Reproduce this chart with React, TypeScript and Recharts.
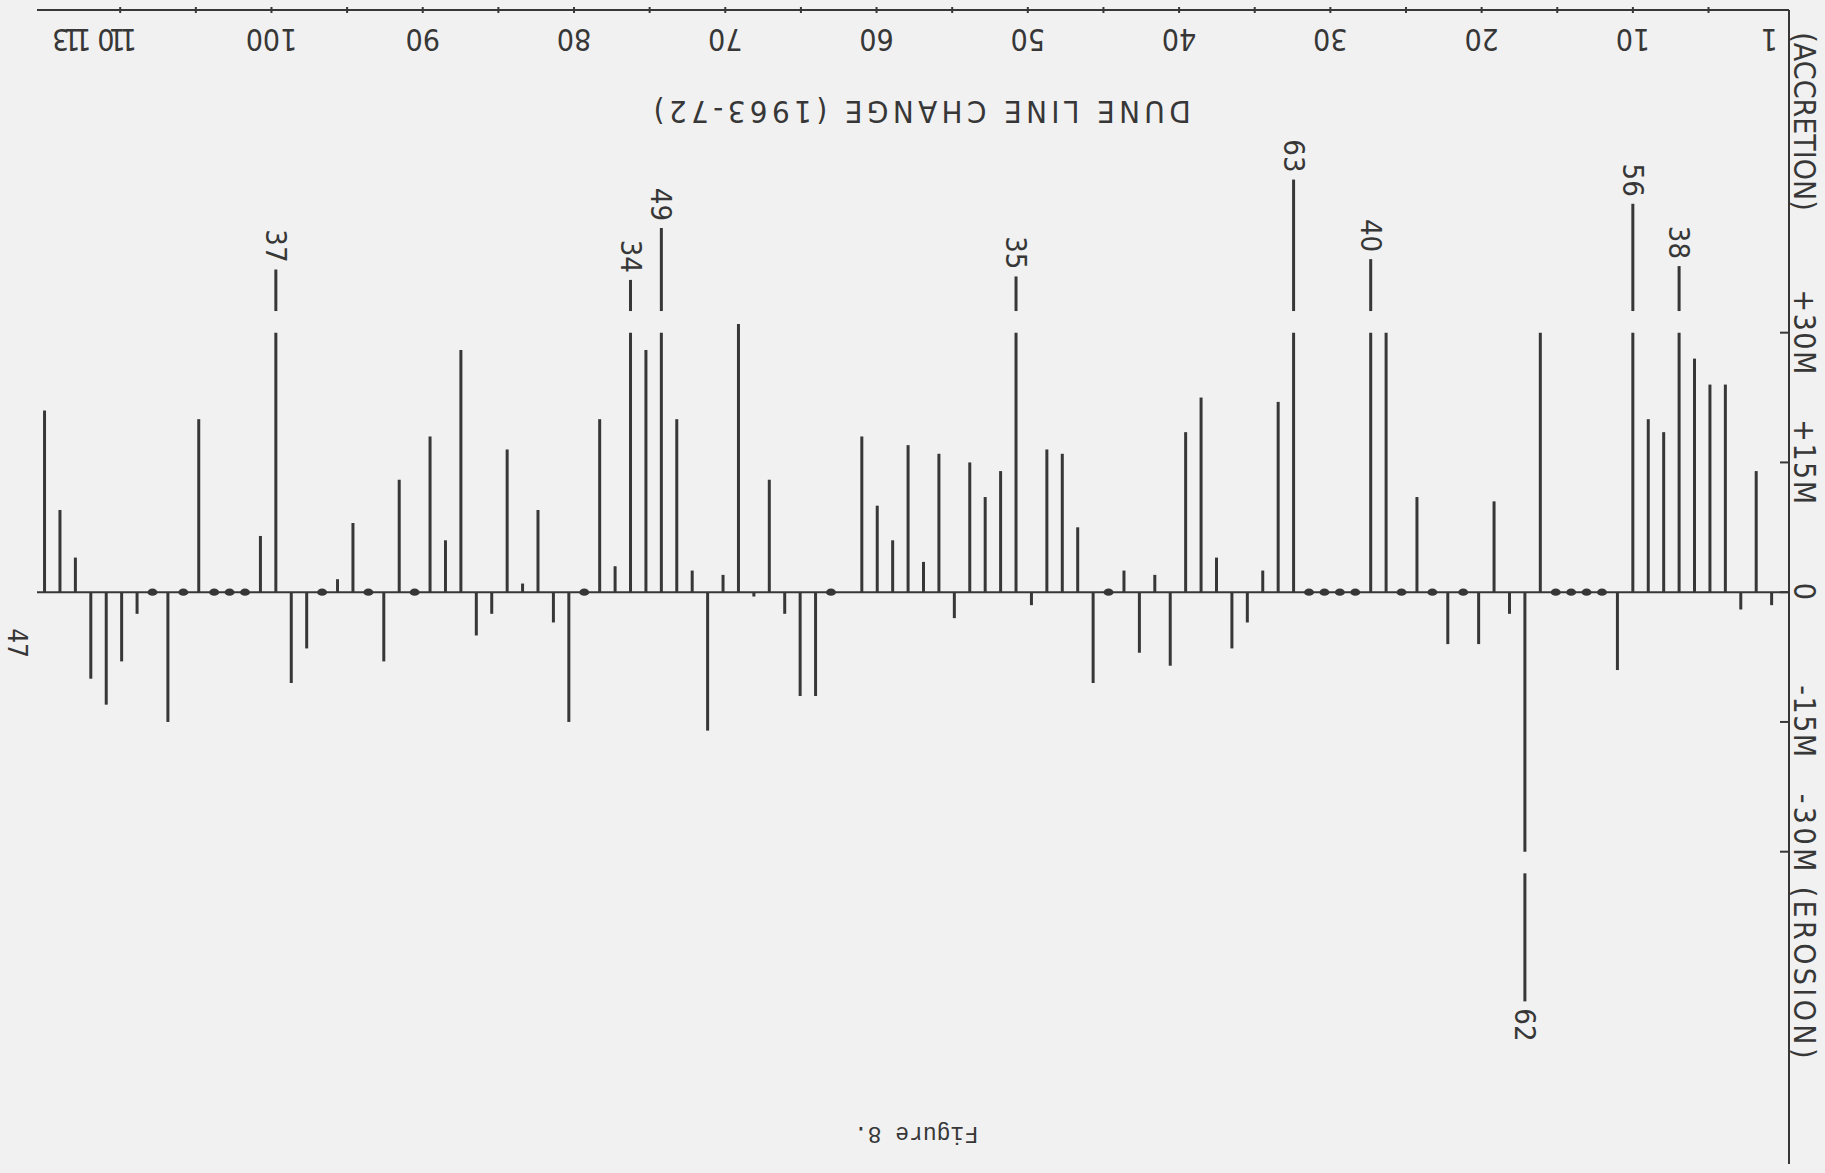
import { Bar, BarChart, ReferenceLine, XAxis, YAxis } from 'recharts';

const INK = '#373737';
const PAPER = '#f1f1f1';
const LETTERING = "'DejaVu Sans Condensed', 'Liberation Sans Narrow', 'DejaVu Sans', sans-serif";

// survey stations along the dune line, numbered 1..113
const stations = Array.from({ length: 113 }, (_, i) => i + 1);

// net dune line change per station, metres (+ accretion, - erosion); null = not surveyed
const duneChange: (number | null)[] = [
  -1.5, 14, -2, 24, 24, 27, 38, 18.5, 20, 56,
  -9, 0, 0, 0, 0, 30, -62, -2.5, 10.5, -6,
  0, -6, 0, 11, 0, 30, 40, 0, 0, 0,
  0, 63, 22, 2.5, -3.5, -6.5, 4, 22.5, 18.5, -8.5,
  2, -7, 2.5, 0, -10.5, 7.5, 16, 16.5, -1.5, 35,
  14, 11, 15, -3, 16, 3.5, 17, 6, 10, 18,
  null, 0, -12, -12, -2.5, 13, -0.5, 31, 2, -16,
  2.5, 20, 49, 28, 34, 3, 20, 0, -15, -3.5,
  9.5, 1, 16.5, -2.5, -5, 28, 6, 18, 0, 13,
  -8, 0, 8, 1.5, 0, -6.5, -10.5, 37, 6.5, 0,
  0, 0, 20, 0, -15, 0, -2.5, -8, -13, -10,
  4, 9.5, 21,
];

// the lettered station scale: ticks every 5, numbers every 10
const stationAxisTicks = [1, 5, 10, 15, 20, 25, 30, 35, 40, 45, 50, 55, 60, 65, 70, 75, 80, 85, 90, 95, 100, 105, 110, 113];
const stationTicks = [1, 10, 20, 30, 40, 50, 60, 70, 80, 90, 100, 110, 113];
const metreTicks = [-30, -15, 0, 15, 30];
const metreTickLabels = ['-30M (EROSION)', '-15M', '0', '+15M', '+30M'];

// changes beyond this are drawn broken, with the figure written past the gap
const BREAK_AT = 30;

const data = stations.map((station, i) => ({ station, change: duneChange[i] }));

function Stem(props: any) {
  const { x, y, width, height, payload } = props;
  const v: number | null = payload?.change ?? null;
  if (v == null || x == null) return <g />;
  const cx = x + width / 2;
  const zero = y + height;
  if (v === 0) return <ellipse cx={cx} cy={zero} rx={5} ry={3.6} fill={INK} />;

  const unit = Math.abs(height / v);
  const dir = v > 0 ? -1 : 1;
  const at = (m: number) => zero + dir * m * unit;
  const mag = Math.abs(v);

  if (mag <= BREAK_AT + 2) {
    return <line x1={cx} x2={cx} y1={zero} y2={y} stroke={INK} strokeWidth={3} />;
  }

  const restStart = BREAK_AT + 2.5;
  const restEnd = restStart + 2 + (mag - BREAK_AT) * 0.4;
  const ly = at(restEnd) + dir * 7;
  return (
    <g>
      <line x1={cx} x2={cx} y1={zero} y2={at(BREAK_AT)} stroke={INK} strokeWidth={3} />
      <line x1={cx} x2={cx} y1={at(restStart)} y2={at(restEnd)} stroke={INK} strokeWidth={3} />
      <text
        x={cx}
        y={ly}
        transform={`rotate(90 ${cx} ${ly})`}
        textAnchor={v > 0 ? 'end' : 'start'}
        dominantBaseline="central"
        fontFamily={LETTERING}
        fontSize={29}
        fill={INK}
      >
        {mag}
      </text>
    </g>
  );
}

function StationTick({ x, y, payload }: any) {
  const s = payload.value as number;
  const ty = y + 19;
  return (
    <g>
      {s % 5 === 0 && <line x1={x} x2={x} y1={y - 3} y2={y + 3} stroke={INK} strokeWidth={2} />}
      {stationTicks.includes(s) && (
        <text
          x={x}
          y={ty}
          transform={`rotate(180 ${x} ${ty})`}
          textAnchor="middle"
          fontFamily={LETTERING}
          fontSize={30}
          letterSpacing={s > 105 ? -6 : 0}
          fill={INK}
        >
          {s}
        </text>
      )}
    </g>
  );
}

function MetreTick({ x, y, payload }: any) {
  const v = payload.value as number;
  const label = metreTickLabels[metreTicks.indexOf(v)];
  const tx = x + 5;
  const ty = v === -30 ? y - 58 : y;
  const top = y - 122;
  return (
    <g>
      <line x1={x - 9} x2={x} y1={y} y2={y} stroke={INK} strokeWidth={2} />
      <text
        x={tx}
        y={ty}
        transform={`rotate(90 ${tx} ${ty})`}
        textAnchor={v === -30 ? 'start' : 'middle'}
        fontFamily={LETTERING}
        fontSize={30}
        letterSpacing={v === -30 ? 3.4 : 1.5}
        fill={INK}
      >
        {label}
      </text>
      {v === 30 && (
        <text
          x={tx}
          y={top}
          transform={`rotate(90 ${tx} ${top})`}
          textAnchor="end"
          fontFamily={LETTERING}
          fontSize={30}
          fill={INK}
        >
          (ACCRETION)
        </text>
      )}
    </g>
  );
}

export default function App() {
  return (
    <div
      style={{
        position: 'absolute',
        left: 0,
        top: 0,
        width: 1825,
        height: 1173,
        background: PAPER,
        overflow: 'hidden',
      }}
    >
      <BarChart width={1825} height={1173} data={data} margin={{ top: 0, right: 0, bottom: 9, left: 37 }}>
        {/* one band per station for the stems */}
        <XAxis xAxisId="bars" dataKey="station" reversed hide padding={{ left: 0, right: 9.5 }} />
        {/* hand-lettered station scale along the top edge, spaced a little tighter than the stems */}
        <XAxis
          xAxisId="scale"
          dataKey="station"
          type="number"
          orientation="top"
          reversed
          domain={[-0.32, 115.5]}
          allowDataOverflow
          ticks={stationAxisTicks}
          height={10}
          interval={0}
          tickSize={0}
          tickMargin={0}
          tickLine={false}
          axisLine={{ stroke: INK, strokeWidth: 2 }}
          tick={<StationTick />}
        />
        <YAxis
          orientation="right"
          type="number"
          width={36}
          domain={[-66.1, 67.3]}
          allowDataOverflow
          ticks={metreTicks}
          tickSize={0}
          tickMargin={0}
          tickLine={false}
          axisLine={{ stroke: INK, strokeWidth: 2 }}
          tick={<MetreTick />}
        />
        <ReferenceLine xAxisId="bars" y={0} stroke={INK} strokeWidth={2} />
        <Bar xAxisId="bars" dataKey="change" isAnimationActive={false} shape={<Stem />} />
      </BarChart>

      <svg
        width={1825}
        height={1173}
        style={{ position: 'absolute', left: 0, top: 0, pointerEvents: 'none' }}
      >
        <text
          x={920}
          y={101}
          transform="rotate(180 920 101)"
          textAnchor="middle"
          fontFamily={LETTERING}
          fontSize={31}
          letterSpacing={4.4}
          fill={INK}
        >
          DUNE LINE CHANGE (1963-72)
        </text>
        <text
          x={916}
          y={1127}
          transform="rotate(180 916 1127)"
          textAnchor="middle"
          fontFamily="'Liberation Mono', 'DejaVu Sans Mono', monospace"
          fontSize={23}
          fill={INK}
        >
          Figure 8.
        </text>
        <text
          x={8}
          y={643}
          transform="rotate(90 8 643)"
          textAnchor="middle"
          fontFamily={LETTERING}
          fontSize={26}
          fill={INK}
        >
          47
        </text>
      </svg>
    </div>
  );
}
